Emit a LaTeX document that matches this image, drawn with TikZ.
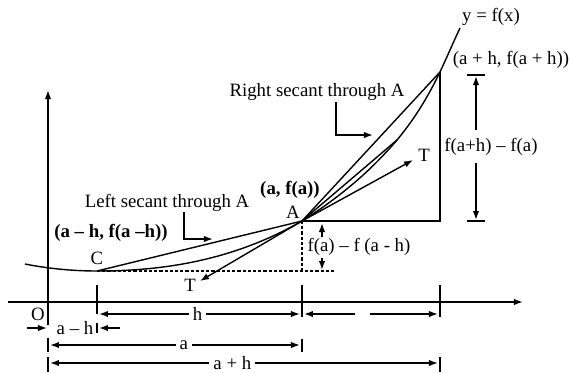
\documentclass[tikz,border=0pt]{standalone}
\usepackage{fontspec}
\setmainfont{Liberation Serif}
\usetikzlibrary{arrows.meta}
\begin{document}
\begin{tikzpicture}[x=0.5pt,y=-0.5pt,
  every node/.style={font=\fontsize{9.4}{11}\selectfont, inner sep=0pt},
  ln/.style={line width=0.7pt},
  arr/.style={ln,-{Latex[length=4.5pt,width=3.2pt]}},
  dbl/.style={ln,{Latex[length=4.5pt,width=3.2pt]}-{Latex[length=4.5pt,width=3.2pt]}},
  dsh/.style={line width=0.6pt, dash pattern=on 1.6pt off 1pt},
  bl/.style={font=\fontsize{9.4}{11}\selectfont\bfseries},
  gap/.style={fill=white, inner xsep=2pt}]
\useasboundingbox (0,0) rectangle (570,372);
% key points
\coordinate (S) at (25,264);
\coordinate (C) at (97,271);
\coordinate (A) at (302,221);
\coordinate (P) at (397,140);
\coordinate (B) at (440,72);
\coordinate (E) at (460,28);
\coordinate (R) at (440,221);
% axes
\coordinate (Xs) at (8,302); \coordinate (Xe) at (523,302);
\coordinate (Yb) at (48,325); \coordinate (Yt) at (48,90);
\draw[arr] (Xs) -- (Xe);
\draw[arr] (Yb) -- (Yt);
% curve
\draw[ln] (S) .. controls (50,269) and (75,271) .. (C)
  .. controls (165,271) and (234,260) .. (A)
  .. controls (337,199) and (369,173) .. (P)
  .. controls (412,122) and (426,101) .. (B)
  .. controls (447,57) and (453,43) .. (E);
% chords
\draw[ln] (C) -- (A);
\draw[ln] (A) -- (P);
\draw[ln] (A) -- (B);
\draw[ln] (A) -- (R) -- (B);
% tangent
\coordinate (Tu) at (413,160); \coordinate (Tl) at (200,281);
\draw[arr] (A) -- (Tu);
\draw[arr] (A) -- (Tl);
% dashed
\coordinate (Ad) at (302,271); \coordinate (De) at (336,271);
\draw[dsh] (A) -- (Ad);
\draw[dsh] (C) -- (De);
% ticks on x axis
\draw[ln] (97,285) -- (97,314);
\draw[ln] (302,285) -- (302,317);
\draw[ln] (440,285) -- (440,317);
% h dimension
\draw[dbl] (99,314) -- (300,314) node[pos=0.49, gap] {h};
\draw[arr] (355,314) -- (304,314);
\draw[arr] (370,314) -- (438,314);
% a - h dimension
\draw[arr] (27,328) -- (47,328);
\node (amh) at (75,328) {a – h};
\draw[ln] (97,323) -- (97,333);
\draw[arr] (120,328) -- (99,328);
% a dimension
\draw[ln] (48,338) -- (48,352);
\draw[ln] (302,339) -- (302,352);
\draw[dbl] (50,345) -- (300,345) node[pos=0.535, gap] {a};
% a + h dimension
\draw[ln] (48,357) -- (48,372);
\draw[ln] (440,357) -- (440,372);
\draw[dbl] (50,363) -- (438,363) node[pos=0.47, gap, text depth=0pt] {a + h};
% f(a+h)-f(a)
\draw[ln] (467,75) -- (485,75);
\draw[ln] (467,221) -- (485,221);
\draw[arr] (476,130) -- (476,76);
\draw[arr] (476,163) -- (476,220);
% f(a)-f(a-h)
\draw[arr] (322,237) -- (322,223);
\draw[arr] (322,258) -- (322,270);
% elbow arrows
\draw[arr] (336,102) -- (336,135) -- (373,135);
\draw[arr] (184,212) -- (184,239) -- (213,239);
% labels
\node (yfx) at (491,17) {y = f(x)};
\node (lB) at (511,60) {(a + h, f(a + h))};
\node (rs) at (317,92) {Right secant through A};
\node (T1) at (424,155) {T};
\node (dR) at (491,147) {f(a+h) – f(a)};
\node[bl] (lA) at (290,190) {(a, f(a))};
\node (nA) at (293,212) {A};
\node (ls) at (167,203) {Left secant through A};
\node[bl] (lC) at (111,233) {(a – h, f(a –h))};
\node (nC) at (97,258) {C};
\node (T2) at (190,285) {T};
\node (dL) at (359,247) {f(a) – f (a - h)};
\node (nO) at (38,314) {O};
\end{tikzpicture}
\end{document}
